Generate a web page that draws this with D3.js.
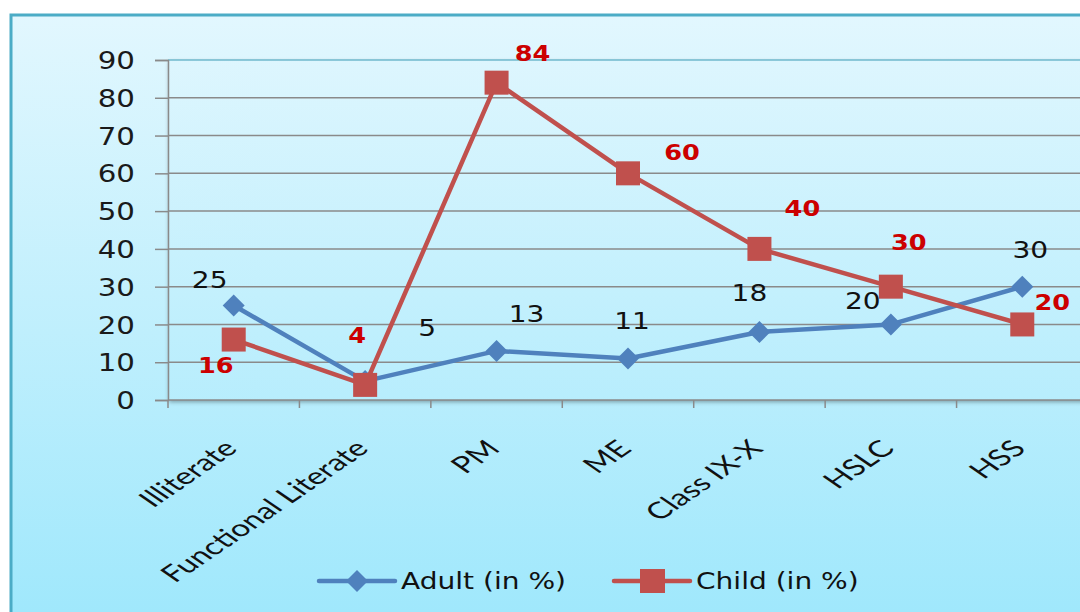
<!DOCTYPE html>
<html>
<head>
<meta charset="utf-8">
<script src="https://cdn.jsdelivr.net/npm/d3@7"></script>
<style>
  html, body { margin: 0; padding: 0; background: #fff; }
  svg { display: block; }
</style>
</head>
<body>
<svg id="chart" width="1080" height="612"></svg>
<script>
// Education levels and the share of adults / children at each level
const categories = ["Illiterate", "Functional Literate", "PM", "ME", "Class IX-X", "HSLC", "HSS"];
const adultValues = [25, 5, 13, 11, 18, 20, 30];
const childValues = [16, 4, 84, 60, 40, 30, 20];
const yTicks = [0, 10, 20, 30, 40, 50, 60, 70, 80, 90];
const seriesNames = ["Adult (in %)", "Child (in %)"];

// Data label offsets relative to each marker (label placement only)
const adultLabelOffsets = [[-24, -26], [62, -53], [30, -37], [4, -38], [-10, -39], [-28, -24], [8, -37]];
const childLabelOffsets = [[-18, 26], [-8, -49], [36, -29], [54, -21], [43, -40], [18, -44], [30, -22]];

const BLUE = "#4f81bd", RED = "#c0504d";
const TEXT_STRETCH = 1.22;

const svg = d3.select("#chart");
const defs = svg.append("defs");

const bg = defs.append("linearGradient").attr("id", "bg")
  .attr("gradientUnits", "userSpaceOnUse").attr("x1", 0).attr("y1", 15).attr("x2", 0).attr("y2", 612);
bg.append("stop").attr("offset", "0%").attr("stop-color", "#e2f7fe");
bg.append("stop").attr("offset", "100%").attr("stop-color", "#a0e8fc");

const shadow = defs.append("filter").attr("id", "shadow")
  .attr("x", "-5%").attr("y", "-5%").attr("width", "115%").attr("height", "115%");
shadow.append("feDropShadow").attr("dx", 1).attr("dy", 2).attr("stdDeviation", 2)
  .attr("flood-color", "#000").attr("flood-opacity", 0.35);

// Chart frame
svg.append("rect").attr("x", 11).attr("y", 15).attr("width", 1100).attr("height", 620)
  .attr("fill", "url(#bg)").attr("stroke", "#4bacc6").attr("stroke-width", 3);

const plotLeft = 168, plotRight = 1088, plotTop = 60, plotBottom = 400;
const x = d3.scaleBand().domain(categories).range([plotLeft, plotRight]);
const y = d3.scaleLinear().domain([0, 90]).range([plotBottom, plotTop]);
const cx = c => x(c) + x.bandwidth() / 2;

// Plot area
svg.append("rect").attr("x", plotLeft).attr("y", plotTop)
  .attr("width", plotRight - plotLeft).attr("height", plotBottom - plotTop)
  .attr("fill", "url(#bg)").attr("filter", "url(#shadow)");

// Gridlines
svg.append("g").selectAll("line").data(yTicks.filter(t => t > 0)).join("line")
  .attr("x1", plotLeft).attr("x2", plotRight)
  .attr("y1", d => y(d)).attr("y2", d => y(d))
  .attr("stroke", d => d === 90 ? "#6fb9cc" : "#8a8a8a").attr("stroke-width", 1.5);

// Y axis
const yAxis = svg.append("g").attr("transform", `translate(${plotLeft},0)`)
  .call(d3.axisLeft(y).tickValues(yTicks).tickSize(13).tickPadding(0));
yAxis.select(".domain").attr("stroke", "#8a8a8a").attr("stroke-width", 1.5);
yAxis.selectAll(".tick line").attr("stroke", "#8a8a8a").attr("stroke-width", 1.5);
yAxis.selectAll(".tick text").remove();
yAxis.selectAll(".tick").append("text")
  .attr("transform", `translate(-33,0) scale(${TEXT_STRETCH},1)`)
  .attr("text-anchor", "end").attr("dy", "0.36em")
  .attr("fill", "#1a1a1a").attr("font-family", "DejaVu Sans").attr("font-size", 24)
  .text(d => d);

// X axis (ticks at category boundaries)
const xAxis = svg.append("g").attr("transform", `translate(0,${plotBottom})`);
xAxis.append("line").attr("x1", plotLeft).attr("x2", plotRight).attr("stroke", "#8a8a8a").attr("stroke-width", 1.5);
xAxis.selectAll("line.tk").data(d3.range(categories.length + 1)).join("line").attr("class", "tk")
  .attr("x1", i => plotLeft + i * x.bandwidth()).attr("x2", i => plotLeft + i * x.bandwidth())
  .attr("y1", 0).attr("y2", 8).attr("stroke", "#8a8a8a").attr("stroke-width", 1.5);
xAxis.selectAll("text").data(categories).join("text")
  .attr("transform", d => `translate(${cx(d) + 5},${50}) scale(1.46,1) rotate(-45)`)
  .attr("text-anchor", "end")
  .attr("fill", "#111").attr("font-family", "Lato").attr("font-size", 23)
  .text(d => d);

// Series lines and markers
const line = d3.line().x((d, i) => cx(categories[i])).y(d => y(d));
svg.append("path").datum(adultValues).attr("d", line)
  .attr("fill", "none").attr("stroke", BLUE).attr("stroke-width", 4.5).attr("stroke-linejoin", "round");
svg.append("path").datum(childValues).attr("d", line)
  .attr("fill", "none").attr("stroke", RED).attr("stroke-width", 4.5).attr("stroke-linejoin", "round");

const diamond = s => `M0,${-s}L${s},0L0,${s}L${-s},0Z`;
svg.append("g").selectAll("path").data(adultValues).join("path")
  .attr("transform", (d, i) => `translate(${cx(categories[i])},${y(d)})`)
  .attr("d", diamond(11)).attr("fill", BLUE);
svg.append("g").selectAll("rect").data(childValues).join("rect")
  .attr("x", (d, i) => cx(categories[i]) - 12).attr("y", d => y(d) - 12)
  .attr("width", 24).attr("height", 24).attr("fill", RED);

// Data labels
svg.append("g").selectAll("text").data(adultValues).join("text")
  .attr("transform", (d, i) => `translate(${cx(categories[i]) + adultLabelOffsets[i][0]},${y(d) + adultLabelOffsets[i][1]}) scale(${TEXT_STRETCH},1)`)
  .attr("text-anchor", "middle").attr("dy", "0.36em")
  .attr("fill", "#111").attr("font-family", "DejaVu Sans").attr("font-size", 23)
  .text(d => d);
svg.append("g").selectAll("text").data(childValues).join("text")
  .attr("transform", (d, i) => `translate(${cx(categories[i]) + childLabelOffsets[i][0]},${y(d) + childLabelOffsets[i][1]}) scale(${TEXT_STRETCH},1)`)
  .attr("text-anchor", "middle").attr("dy", "0.36em")
  .attr("fill", "#cc0000").attr("font-family", "DejaVu Sans").attr("font-weight", "bold").attr("font-size", 21)
  .text(d => d);

// Legend
const legend = svg.append("g").attr("transform", "translate(0,581)");
const legendItems = [
  { name: seriesNames[0], color: BLUE, x0: 319, marker: "diamond" },
  { name: seriesNames[1], color: RED, x0: 614, marker: "square" }
];
legendItems.forEach(it => {
  legend.append("line").attr("x1", it.x0).attr("x2", it.x0 + 76)
    .attr("stroke", it.color).attr("stroke-width", 4.5).attr("stroke-linecap", "round");
  if (it.marker === "diamond") {
    legend.append("path").attr("transform", `translate(${it.x0 + 38},0)`).attr("d", diamond(11)).attr("fill", it.color);
  } else {
    legend.append("rect").attr("x", it.x0 + 26).attr("y", -12).attr("width", 25).attr("height", 24).attr("fill", it.color);
  }
  legend.append("text")
    .attr("transform", `translate(${it.x0 + 82},0) scale(${TEXT_STRETCH},1)`)
    .attr("dy", "0.36em").attr("fill", "#111")
    .attr("font-family", "DejaVu Sans").attr("font-size", 23)
    .text(it.name);
});
</script>
</body>
</html>
